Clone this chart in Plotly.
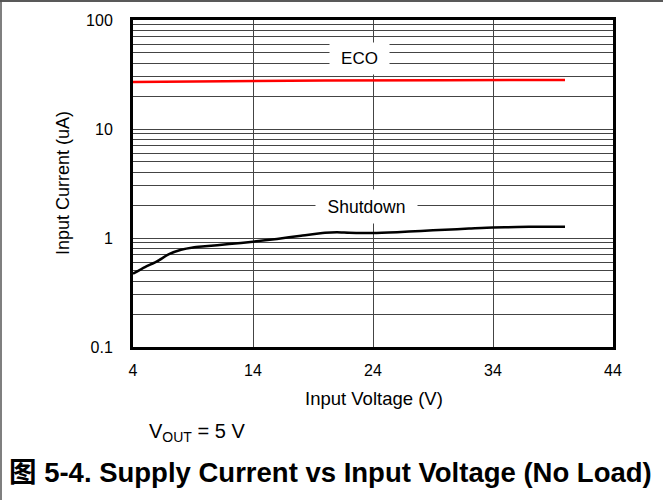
import math
import plotly.graph_objects as go

# Data
voltage_sd = [4, 5, 6, 7, 8, 9, 10, 12, 14, 16, 18, 20, 21, 22, 24, 26, 28, 30, 32, 34, 36, 38, 40]
shutdown_ua = [0.47, 0.54, 0.61, 0.71, 0.78, 0.82, 0.84, 0.88, 0.925, 0.98, 1.05, 1.12, 1.13, 1.12, 1.11, 1.13, 1.16, 1.19, 1.22, 1.25, 1.26, 1.27, 1.27]
voltage_eco = [4, 10, 20, 30, 40]
eco_ua = [27.0, 27.4, 27.8, 28.0, 28.2]

x_ticks = [4, 14, 24, 34, 44]
y_ticks = [0.1, 1, 10, 100]
y_tick_text = ["0.1", "1", "10", "100"]
minor_vals = [m * d for d in [0.1, 1, 10] for m in range(2, 10)]

FONT = "Liberation Sans, Arial, Noto Sans CJK SC, sans-serif"
GRID = "#444444"

fig = go.Figure()
fig.add_trace(go.Scatter(x=voltage_eco, y=eco_ua, mode="lines",
                         line=dict(color="#ff0000", width=2.5), showlegend=False))
fig.add_trace(go.Scatter(x=voltage_sd, y=shutdown_ua, mode="lines",
                         line=dict(color="#000000", width=2.5, shape="spline", smoothing=0.6),
                         showlegend=False))

L, R, T, B = 133, 50, 20, 153
W, H = 663, 500
pw, ph = W - L - R, H - T - B

def px(xp):
    return (xp - L) / pw

def py(yp):
    return (H - B - yp) / ph

fig.update_layout(
    width=W, height=H,
    margin=dict(l=L, r=R, t=T, b=B),
    paper_bgcolor="white", plot_bgcolor="white",
    font=dict(family=FONT, size=16, color="black"),
    xaxis=dict(range=[4, 44], tickvals=x_ticks, ticktext=[str(v) for v in x_ticks],
               showgrid=True, gridcolor=GRID, gridwidth=1,
               showline=True, linecolor="black", linewidth=3, mirror=True,
               ticks="", zeroline=False, ticklabelstandoff=7,
               tickfont=dict(size=16, family=FONT)),
    yaxis=dict(type="log", range=[-1, 2], tickvals=y_ticks, ticktext=y_tick_text,
               showgrid=True, gridcolor=GRID, gridwidth=1,
               minor=dict(tickmode="array", tickvals=minor_vals, showgrid=True,
                          gridcolor=GRID, gridwidth=1, ticks=""),
               showline=True, linecolor="black", linewidth=3, mirror=True,
               ticks="", zeroline=False, ticklabelstandoff=14,
               tickfont=dict(size=16, family=FONT)),
)

def ann(xp, yp, text, size, **kw):
    d = dict(x=px(xp), y=py(yp), xref="paper", yref="paper", text=text, showarrow=False,
             xanchor=kw.pop("xanchor", "center"), yanchor="middle", font=dict(size=size))
    d.update(kw)
    return d

annotations = [
    ann(359.5, 58.5, "ECO", 17, bgcolor="white", width=59, height=31, borderpad=0),
    ann(366.5, 206.5, "Shutdown", 17.5, bgcolor="white", width=101, height=33, borderpad=0),
    ann(374, 398, "Input Voltage (V)", 18.5),
    ann(63, 183, "Input Current (uA)", 18, textangle=-90),
    ann(147, 432, "V<sub>OUT</sub> = 5 V", 20, xanchor="left"),
    ann(7, 473, "<b>图 5-4. Supply Current vs Input Voltage (No Load)</b>", 27.5, xanchor="left"),
]
fig.update_layout(annotations=annotations)

# outer frame (top and left edges)
fig.add_shape(type="line", xref="paper", yref="paper", x0=px(0), x1=px(663), y0=py(1), y1=py(1),
              line=dict(color="#222222", width=1.5))
fig.add_shape(type="line", xref="paper", yref="paper", x0=px(1), x1=px(1), y0=py(0), y1=py(500),
              line=dict(color="#555555", width=1.5))

fig.write_html("out.html")
